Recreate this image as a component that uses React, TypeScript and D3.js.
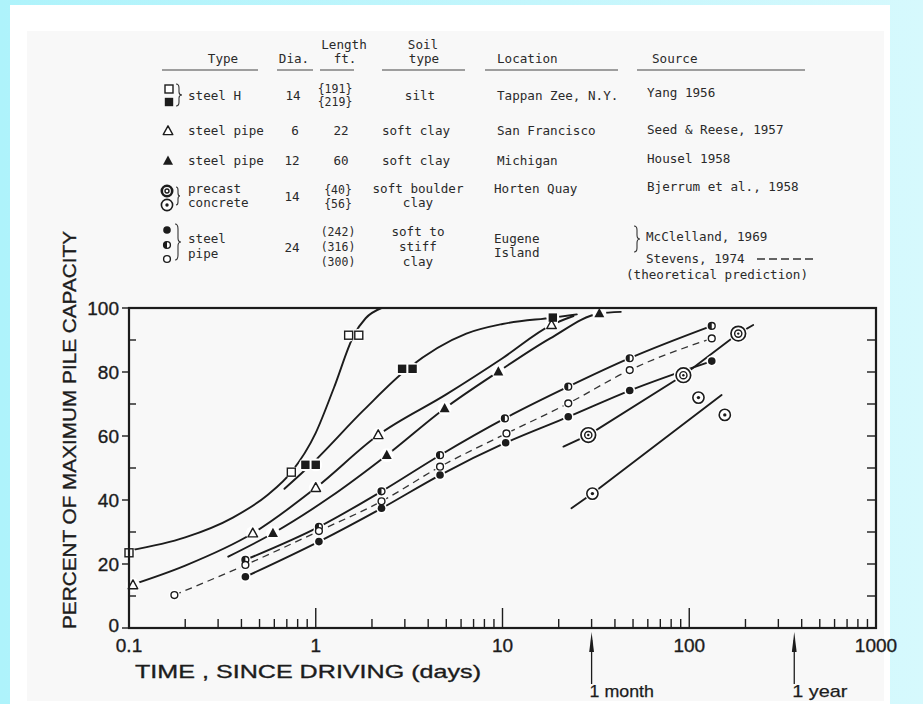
import React from "react";
import * as d3 from "d3";

type Pt = [number, number];

// ---------- table text ----------
const headerTop = ["Length", "Soil"];
const headerBottom = ["Type", "Dia.", "ft.", "type", "Location", "Source"];

// ---------- measured points (days, % of max capacity) ----------
// Tappan Zee steel H piles
const steelHOpen: Pt[] = [[0.1, 23.5], [0.74, 48.7], [1.5, 91.5], [1.7, 91.5]];
const steelHOpenCurve: Pt[] = [[0.1, 24.2], [0.2, 28.3], [0.36, 34.5], [0.55, 41.5], [0.74, 48.7], [1.0, 61], [1.25, 75], [1.6, 91.5], [1.85, 96.8], [2.25, 100]];
const steelHFilled: Pt[] = [[0.88, 51], [1.0, 51], [2.9, 81], [3.3, 81], [18.6, 97]];
const steelHFilledCurve: Pt[] = [[0.68, 43.5], [0.94, 51], [1.8, 68], [3.1, 81], [6.4, 92], [10, 95], [18.6, 97], [25, 98]];
// San Francisco 6" steel pipe
const sfPipe: Pt[] = [[0.105, 13.4], [0.46, 29.6], [1.0, 43.8], [2.16, 60.3], [18.3, 94.7]];
const sfPipeCurve: Pt[] = [[0.1, 13.2], [0.2, 19.5], [0.46, 29.6], [1.0, 43.8], [2.16, 60.3], [5, 73], [10, 84.3], [18.3, 94.7], [24, 97.5]];
// Michigan 12" steel pipe
const miPipe: Pt[] = [[0.59, 29.6], [2.4, 54], [4.9, 68.6], [9.5, 80.1], [33, 98.3]];
const miPipeCurve: Pt[] = [[0.34, 22.3], [0.59, 29.6], [1.2, 41], [2.4, 54], [4.9, 68.6], [9.5, 80.1], [18, 90.5], [33, 98.3], [43, 98.8]];
// Eugene Island 24" steel pipe
const eu316: Pt[] = [[0.42, 21.3], [1.04, 31.6], [2.25, 42.7], [4.63, 54], [10.3, 65.5], [22.5, 75.4], [48, 84.3], [132, 94.4]];
const eu300: Pt[] = [[0.175, 10.3], [0.42, 19.7], [1.04, 30.3], [2.25, 39.6], [4.63, 50.4], [10.5, 60.8], [22.5, 70.2], [48, 80.6], [132, 90.5]];
const eu242: Pt[] = [[0.42, 16], [1.04, 27], [2.25, 37.4], [4.63, 47.8], [10.4, 57.9], [22.5, 66], [48, 74.2], [132, 83.4]];
// Horten Quay precast concrete
const hq40: Pt[] = [[28.8, 60.3], [93, 79], [183, 92]];
const hq40Line: Pt[] = [[21.2, 56.7], [28.8, 60.3], [93, 79], [183, 92], [220, 94.7]];
const hq56: Pt[] = [[30.3, 42], [112, 72], [155, 66.6]];
const hq56Line: Pt[] = [[23.4, 37.4], [30.3, 42], [149, 72.8]];

const yMajor = [0, 20, 40, 60, 80, 100];
const yMinor = [10, 30, 50, 70, 90];
const yRight = [10, 20, 30, 40, 50, 60, 70, 80, 90];
const xLabels = [0.1, 1, 10, 100, 1000];
const timeMarks: { v: number; label: string }[] = [
  { v: 30, label: "1 month" },
  { v: 365, label: "1 year" },
];

const INK = "#1c1c1c";
const MONO = "'DejaVu Sans Mono', 'Liberation Mono', monospace";
const SANS = "'Liberation Sans', Arial, Helvetica, sans-serif";

type Kind =
  | "sqOpen" | "sqFilled" | "triOpen" | "triFilled"
  | "cOpen" | "cFilled" | "cHalf" | "dblLarge" | "dblSmall" | "dblBold";

function halo(kind: Kind, cx: number, cy: number, key: string) {
  const r =
    kind === "dblLarge" ? 9.5 : kind === "dblSmall" || kind === "dblBold" ? 7.5 :
    kind.startsWith("tri") ? 7 : kind.startsWith("sq") ? 6.5 : 5.5;
  return <circle key={key} cx={cx} cy={cy} r={r} fill="#fff" />;
}

function marker(kind: Kind, cx: number, cy: number, key: string) {
  const sw = 1.4;
  switch (kind) {
    case "sqOpen":
      return <rect key={key} x={cx - 4} y={cy - 4} width={8} height={8} fill="#fff" stroke={INK} strokeWidth={sw} />;
    case "sqFilled":
      return <rect key={key} x={cx - 4.2} y={cy - 4.2} width={8.4} height={8.4} fill={INK} />;
    case "triOpen":
      return <path key={key} d={`M${cx},${cy - 5.2}L${cx + 4.8},${cy + 3.6}L${cx - 4.8},${cy + 3.6}Z`} fill="#fff" stroke={INK} strokeWidth={sw} strokeLinejoin="round" />;
    case "triFilled":
      return <path key={key} d={`M${cx},${cy - 5.5}L${cx + 5},${cy + 3.8}L${cx - 5},${cy + 3.8}Z`} fill={INK} />;
    case "cOpen":
      return <circle key={key} cx={cx} cy={cy} r={3.4} fill="#fff" stroke={INK} strokeWidth={sw} />;
    case "cFilled":
      return <circle key={key} cx={cx} cy={cy} r={3.8} fill={INK} />;
    case "cHalf":
      return (
        <g key={key}>
          <circle cx={cx} cy={cy} r={3.4} fill="#fff" stroke={INK} strokeWidth={sw} />
          <path d={`M${cx},${cy - 3.4}A3.4,3.4 0 0 0 ${cx},${cy + 3.4}Z`} fill={INK} />
        </g>
      );
    case "dblLarge":
      return (
        <g key={key}>
          <circle cx={cx} cy={cy} r={7.3} fill="#fff" stroke={INK} strokeWidth={1.7} />
          <circle cx={cx} cy={cy} r={3.6} fill="none" stroke={INK} strokeWidth={1.4} />
          <circle cx={cx} cy={cy} r={1.2} fill={INK} />
        </g>
      );
    case "dblSmall":
      return (
        <g key={key}>
          <circle cx={cx} cy={cy} r={5.6} fill="#fff" stroke={INK} strokeWidth={1.6} />
          <circle cx={cx} cy={cy} r={1.7} fill={INK} />
        </g>
      );
    case "dblBold":
      return (
        <g key={key}>
          <circle cx={cx} cy={cy} r={5.2} fill="#fff" stroke={INK} strokeWidth={2.6} />
          <circle cx={cx} cy={cy} r={2.0} fill="none" stroke={INK} strokeWidth={1.4} />
        </g>
      );
  }
}

export default function App() {
  const x = d3.scaleLog().domain([0.1, 1000]).range([129, 876]);
  const y = d3.scaleLinear().domain([0, 100]).range([628, 308]);
  const line = d3
    .line<Pt>()
    .x((d) => x(d[0]))
    .y((d) => y(d[1]))
    .curve(d3.curveMonotoneX);
  const straight = d3
    .line<Pt>()
    .x((d) => x(d[0]))
    .y((d) => y(d[1]))
    .curve(d3.curveLinear);

  const solidCurves: Pt[][] = [
    steelHOpenCurve, steelHFilledCurve, sfPipeCurve, miPipeCurve,
    eu316, eu242, hq40Line, hq56Line,
  ];

  const markerSets: { pts: Pt[]; kind: Kind }[] = [
    { pts: steelHOpen, kind: "sqOpen" },
    { pts: steelHFilled, kind: "sqFilled" },
    { pts: sfPipe, kind: "triOpen" },
    { pts: miPipe, kind: "triFilled" },
    { pts: eu316, kind: "cHalf" },
    { pts: eu300, kind: "cOpen" },
    { pts: eu242, kind: "cFilled" },
    { pts: hq40, kind: "dblLarge" },
    { pts: hq56, kind: "dblSmall" },
  ];

  const [x0, x1] = x.range();
  const [yb, yt] = y.range();
  const xt = x.ticks();

  const tableText = { fontFamily: MONO, fontSize: 12.6, fill: "#2a2a2a" } as const;

  return (
    <svg
      width={923}
      height={704}
      viewBox="0 0 923 704"
      style={{ position: "absolute", left: 0, top: 0, display: "block" }}
    >
      <defs>
        <linearGradient id="frameBg" x1="0" y1="0" x2="1" y2="0">
          <stop offset="0" stopColor="#aef3fb" />
          <stop offset="0.6" stopColor="#c4f6fc" />
          <stop offset="1" stopColor="#d6f9fd" />
        </linearGradient>
      </defs>
      <rect x={0} y={0} width={923} height={704} fill="url(#frameBg)" />
      <rect x={10} y={5} width={880} height={699} fill="#ffffff" />
      <rect x={27} y={31} width={857} height={670} fill="#f8f8f8" />

      {/* ---------- data table ---------- */}
      <g {...tableText}>
        <text x={344} y={49} textAnchor="middle">{headerTop[0]}</text>
        <text x={423} y={49} textAnchor="middle">{headerTop[1]}</text>
        <text x={223} y={63} textAnchor="middle">{headerBottom[0]}</text>
        <text x={294} y={63} textAnchor="middle">{headerBottom[1]}</text>
        <text x={345} y={63} textAnchor="middle">{headerBottom[2]}</text>
        <text x={424} y={63} textAnchor="middle">{headerBottom[3]}</text>
        <text x={497} y={63}>{headerBottom[4]}</text>
        <text x={652} y={63}>{headerBottom[5]}</text>
      </g>
      <g stroke="#444" strokeWidth={1.2}>
        <line x1={162} x2={258} y1={70} y2={70} />
        <line x1={277} x2={313} y1={70} y2={70} />
        <line x1={320} x2={354} y1={70} y2={70} />
        <line x1={382} x2={465} y1={70} y2={70} />
        <line x1={485} x2={618} y1={70} y2={70} />
        <line x1={637} x2={805} y1={70} y2={70} />
      </g>

      <g {...tableText}>
        {/* row: steel H */}
        <text x={188} y={100}>steel H</text>
        <text x={293} y={100} textAnchor="middle">14</text>
        <text x={335} y={93} textAnchor="middle" fontSize={11.5}>{"{191}"}</text>
        <text x={335} y={106} textAnchor="middle" fontSize={11.5}>{"{219}"}</text>
        <text x={420} y={100} textAnchor="middle">silt</text>
        <text x={497} y={100}>Tappan Zee, N.Y.</text>
        <text x={647} y={97}>Yang 1956</text>

        {/* row: steel pipe 6 */}
        <text x={188} y={135}>steel pipe</text>
        <text x={295} y={135} textAnchor="middle">6</text>
        <text x={341} y={135} textAnchor="middle">22</text>
        <text x={416} y={135} textAnchor="middle">soft clay</text>
        <text x={497} y={135}>San Francisco</text>
        <text x={647} y={134}>Seed &amp; Reese, 1957</text>

        {/* row: steel pipe 12 */}
        <text x={188} y={165}>steel pipe</text>
        <text x={292} y={165} textAnchor="middle">12</text>
        <text x={341} y={165} textAnchor="middle">60</text>
        <text x={416} y={165} textAnchor="middle">soft clay</text>
        <text x={497} y={165}>Michigan</text>
        <text x={647} y={163}>Housel 1958</text>

        {/* row: precast concrete */}
        <text x={188} y={193}>precast</text>
        <text x={188} y={207}>concrete</text>
        <text x={292} y={201} textAnchor="middle">14</text>
        <text x={338} y={194} textAnchor="middle" fontSize={11.5}>{"{40}"}</text>
        <text x={338} y={208} textAnchor="middle" fontSize={11.5}>{"{56}"}</text>
        <text x={418} y={193} textAnchor="middle">soft boulder</text>
        <text x={418} y={207} textAnchor="middle">clay</text>
        <text x={494} y={193}>Horten Quay</text>
        <text x={647} y={191}>Bjerrum et al., 1958</text>

        {/* row: Eugene Island */}
        <text x={188} y={243}>steel</text>
        <text x={188} y={258}>pipe</text>
        <text x={292} y={252} textAnchor="middle">24</text>
        <text x={338} y={236} textAnchor="middle" fontSize={11.5}>(242)</text>
        <text x={338} y={251} textAnchor="middle" fontSize={11.5}>(316)</text>
        <text x={338} y={266} textAnchor="middle" fontSize={11.5}>(300)</text>
        <text x={418} y={236} textAnchor="middle">soft to</text>
        <text x={418} y={251} textAnchor="middle">stiff</text>
        <text x={418} y={266} textAnchor="middle">clay</text>
        <text x={494} y={243}>Eugene</text>
        <text x={494} y={257}>Island</text>
        <text x={646} y={241}>McClelland, 1969</text>
        <text x={646} y={263}>Stevens, 1974</text>
        <text x={626} y={279}>(theoretical prediction)</text>
      </g>
      <line x1={757} x2={815} y1={259} y2={259} stroke="#333" strokeWidth={1.5} strokeDasharray="8,4" />

      {/* braces */}
      <g fill="none" stroke="#333" strokeWidth={1.1}>
        <path d="M176,84 q3,0 3,4 v4 q0,3 3,3 q-3,0 -3,3 v4 q0,4 -3,4" />
        <path d="M176,187 q2,0 2,3 v3 q0,3 2,3 q-2,0 -2,3 v3 q0,3 -2,3" />
        <path d="M175,224 q3,0 3,5 v9 q0,4 3,4 q-3,0 -3,4 v9 q0,5 -3,5" />
        <path d="M634,226 q3,0 3,4 v5 q0,4 3,4 q-3,0 -3,4 v5 q0,4 -3,4" />
      </g>

      {/* table symbols */}
      {marker("sqOpen", 169, 89, "l1")}
      {marker("sqFilled", 169, 102, "l2")}
      {marker("triOpen", 168, 131, "l3")}
      {marker("triFilled", 168, 161, "l4")}
      {marker("dblBold", 167, 191, "l5")}
      {marker("dblSmall", 167, 205, "l6")}
      {marker("cFilled", 167, 230, "l7")}
      {marker("cHalf", 167, 245, "l8")}
      {marker("cOpen", 167, 259, "l9")}

      {/* ---------- plot ---------- */}
      <g fill="none" stroke={INK} strokeWidth={1.9} strokeLinecap="round">
        {solidCurves.map((c, i) => (
          <path key={`c${i}`} d={(i >= 6 ? straight(c) : line(c)) || ""} />
        ))}
      </g>
      <path
        d={line(eu300) || ""}
        fill="none"
        stroke="#333"
        strokeWidth={1.3}
        strokeDasharray="7,5"
      />

      {markerSets.map((s, si) =>
        s.pts.map((p, i) => halo(s.kind, x(p[0]), y(p[1]), `h${si}-${i}`))
      )}
      {markerSets.map((s, si) =>
        s.pts.map((p, i) => marker(s.kind, x(p[0]), y(p[1]), `m${si}-${i}`))
      )}

      {/* frame */}
      <rect x={x0} y={yt} width={x1 - x0} height={yb - yt} fill="none" stroke={INK} strokeWidth={2.2} />

      {/* ticks */}
      <g stroke={INK} strokeWidth={1.4}>
        {xt
          .filter((v) => v > 0.1 && v < 1000)
          .map((v, i) => {
            const major = Math.abs(Math.log10(v) - Math.round(Math.log10(v))) < 1e-6;
            return <line key={`xt${i}`} x1={x(v)} x2={x(v)} y1={yb} y2={yb - (major ? 20 : 9)} />;
          })}
        {yMajor.map((v) => (
          <line key={`ym${v}`} x1={x0 - 7} x2={x0} y1={y(v)} y2={y(v)} />
        ))}
        {yMinor.map((v) => (
          <line key={`yn${v}`} x1={x0} x2={x0 + 7} y1={y(v)} y2={y(v)} />
        ))}
        {yRight.map((v) => (
          <line key={`yr${v}`} x1={x1 - 9} x2={x1} y1={y(v)} y2={y(v)} />
        ))}
      </g>

      <g fontFamily={SANS} fontSize={19} fill={INK} stroke={INK} strokeWidth={0.35}>
        {yMajor.map((v) => (
          <text key={`yl${v}`} x={x0 - 10} y={v === 0 ? y(v) - 3 : y(v)} dy="0.36em" textAnchor="end">
            {String(v)}
          </text>
        ))}
        {xLabels.map((v) => (
          <text key={`xl${v}`} x={x(v)} y={652} textAnchor="middle">
            {String(v)}
          </text>
        ))}
        <text x={135} y={678} textLength={346} lengthAdjust="spacingAndGlyphs">
          TIME , SINCE DRIVING (days)
        </text>
        <text
          transform="translate(76,430) rotate(-90)"
          textAnchor="middle"
          textLength={398}
          lengthAdjust="spacingAndGlyphs"
        >
          PERCENT OF MAXIMUM PILE CAPACITY
        </text>
      </g>

      {timeMarks.map((m) => {
        const mx = x(m.v);
        return (
          <g key={m.label}>
            <line x1={mx} x2={mx} y1={640} y2={684} stroke={INK} strokeWidth={1.3} />
            <path d={`M${mx},632L${mx + 2.4},652L${mx - 2.4},652Z`} fill={INK} />
            <text x={mx - 2} y={697} fontFamily={SANS} fontSize={17} fill={INK} stroke={INK} strokeWidth={0.25} textLength={m.label.length * 9.2} lengthAdjust="spacingAndGlyphs">
              {m.label}
            </text>
          </g>
        );
      })}
    </svg>
  );
}
